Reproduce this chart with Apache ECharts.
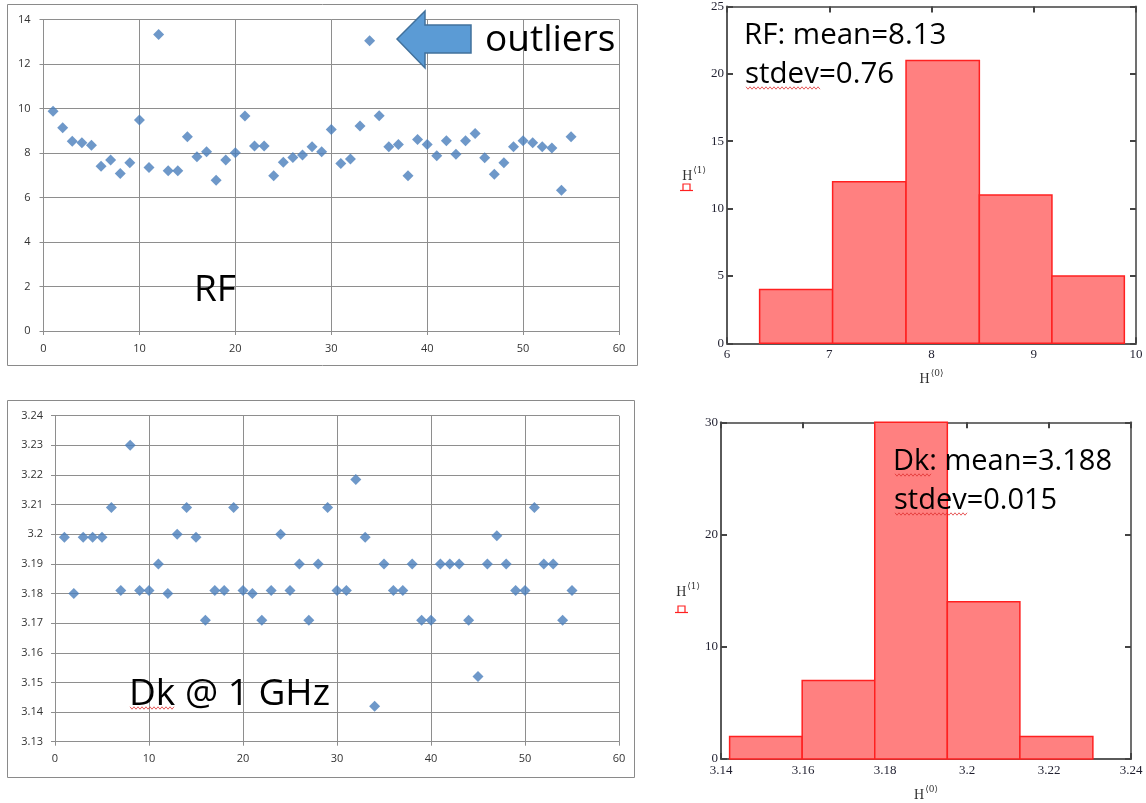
<!DOCTYPE html>
<html>
<head>
<meta charset="utf-8">
<script src="https://cdn.jsdelivr.net/npm/echarts@6/dist/echarts.min.js"></script>
<style>
html, body { margin: 0; padding: 0; background: #fff; }
#main { width: 1146px; height: 803px; }
</style>
</head>
<body>
<div id="main"></div>
<script>
// sample number (x of both scatter plots)
var sampleNo = [1, 2, 3, 4, 5, 6, 7, 8, 9, 10, 11, 12, 13, 14, 15, 16, 17, 18, 19, 20,
    21, 22, 23, 24, 25, 26, 27, 28, 29, 30, 31, 32, 33, 34, 35, 36, 37, 38, 39, 40,
    41, 42, 43, 44, 45, 46, 47, 48, 49, 50, 51, 52, 53, 54, 55];

// RF per sample
var rfValues = [9.88, 9.13, 8.53, 8.46, 8.35, 7.41, 7.68, 7.08, 7.56, 9.48,
    7.35, 13.33, 7.20, 7.20, 8.73, 7.83, 8.06, 6.78, 7.68, 8.01,
    9.66, 8.32, 8.31, 6.98, 7.58, 7.80, 7.91, 8.28, 8.06, 9.06,
    7.53, 7.73, 9.21, 13.04, 9.67, 8.28, 8.38, 6.98, 8.61, 8.38,
    7.88, 8.55, 7.94, 8.55, 8.88, 7.79, 7.04, 7.56, 8.28, 8.55,
    8.46, 8.28, 8.23, 6.33, 8.73];

// Dk @ 1 GHz per sample
var dkValues = [3.199, 3.180, 3.199, 3.199, 3.199, 3.209, 3.181, 3.230, 3.181, 3.181,
    3.190, 3.180, 3.200, 3.209, 3.199, 3.171, 3.181, 3.181, 3.209, 3.181,
    3.180, 3.171, 3.181, 3.200, 3.181, 3.190, 3.171, 3.190, 3.209, 3.181,
    3.181, 3.2185, 3.199, 3.142, 3.190, 3.181, 3.181, 3.190, 3.171, 3.171,
    3.190, 3.190, 3.190, 3.171, 3.152, 3.190, 3.1995, 3.190, 3.181, 3.181,
    3.209, 3.190, 3.190, 3.171, 3.181];

// histograms
var rfBinEdges = [6.319, 7.033, 7.751, 8.468, 9.178, 9.886];
var rfCounts = [4, 12, 21, 11, 5];
var dkBinEdges = [3.1421, 3.1598, 3.1775, 3.1952, 3.2129, 3.2307];
var dkCounts = [2, 7, 30, 14, 2];

var excelGray = '#8e8e8e';
var labelFont = 'Open Sans';

function scatterX(grid) {
    return {
        gridIndex: grid, type: 'value', min: 0, max: 60, interval: 10,
        axisLine: { show: true, onZero: false, lineStyle: { color: excelGray } },
        axisTick: { show: true, length: 4, lineStyle: { color: excelGray } },
        splitLine: { show: true, lineStyle: { color: excelGray } },
        axisLabel: { margin: 12, color: '#333', fontFamily: labelFont, fontSize: 11 }
    };
}

function scatterY(grid, min, max, step, margin) {
    return {
        gridIndex: grid, type: 'value', min: min, max: max, interval: step,
        axisLine: { show: true, onZero: false, lineStyle: { color: excelGray } },
        axisTick: { show: true, length: 4, lineStyle: { color: excelGray } },
        splitLine: { show: true, lineStyle: { color: excelGray } },
        axisLabel: {
            margin: margin, color: '#333', fontFamily: labelFont, fontSize: 11,
            formatter: function (v) { return String(parseFloat(v.toFixed(2))); }
        }
    };
}

var axisName = function (idx) {
    return '{h|H}{s|\u27e8' + idx + '\u27e9}';
};
var nameRich = {
    h: { fontFamily: 'Liberation Serif', fontSize: 14, color: '#333', verticalAlign: 'bottom' },
    s: { fontFamily: 'DejaVu Serif', fontSize: 9, color: '#333', verticalAlign: 'top', padding: [0, 0, 8, 1] }
};

function histAxis(kind, grid, pos, min, max, step, main) {
    var a = {
        gridIndex: grid, type: 'value', position: pos, min: min, max: max, interval: step,
        axisLine: { show: true, onZero: false, lineStyle: { color: main ? '#5a5a5a' : '#707070', width: 2 } },
        axisTick: { show: true, inside: true, length: 6, lineStyle: { color: '#444', width: 2 } },
        splitLine: { show: false },
        axisLabel: {
            show: main, margin: kind === 'x' ? 5 : 3, color: '#1f1f2f',
            fontFamily: 'Liberation Serif', fontSize: 13,
            formatter: function (v) { return String(parseFloat(v.toFixed(2))); }
        }
    };
    if (main) {
        a.name = axisName(kind === 'x' ? 0 : 1);
        a.nameLocation = 'middle';
        a.nameRotate = 0;
        a.nameGap = kind === 'x' ? 26 : 20;
        a.nameTextStyle = { rich: nameRich };
    }
    return a;
}

function histItem(params, api) {
    var p0 = api.coord([api.value(0), 0]);
    var p1 = api.coord([api.value(1), api.value(2)]);
    return {
        type: 'rect',
        shape: { x: p0[0], y: p1[1], width: p1[0] - p0[0], height: p0[1] - p1[1] },
        style: { fill: '#ff8080', stroke: '#ff2020', lineWidth: 1.5 }
    };
}

function pairs(xs, ys) {
    return xs.map(function (x, i) { return [x, ys[i]]; });
}
function bins(edges, counts) {
    return counts.map(function (c, i) { return [edges[i], edges[i + 1], c]; });
}

// red spell-check squiggle under a word
function squiggle(x0, x1, y) {
    var pts = [];
    for (var x = x0, k = 0; x <= x1; x += 2, k++) pts.push([x, y + (k % 2 ? 1.2 : -1.2)]);
    return { type: 'polyline', shape: { points: pts }, style: { stroke: '#e03030', lineWidth: 0.8, fill: null }, z: 101, silent: true };
}

function label(text, x, y, size) {
    return {
        type: 'text', x: x, y: y, z: 100, silent: true,
        style: { text: text, fontFamily: 'Open Sans', fontSize: size, fill: '#000', align: 'left', verticalAlign: 'middle' }
    };
}

var myChart = echarts.init(document.getElementById('main'));

var option = {
    backgroundColor: '#fff',
    animation: false,
    grid: [
        { left: 43.5, top: 19.5, width: 575.5, height: 311.5 },
        { left: 55, top: 415.7, width: 564, height: 326 },
        { left: 727, top: 2, width: 409, height: 341.3 },
        { left: 721, top: 422.3, width: 410, height: 343.4 }
    ],
    xAxis: [
        scatterX(0),
        scatterX(1),
        histAxis('x', 2, 'bottom', 6, 10, 1, true),
        histAxis('x', 2, 'top', 6, 10, 1, false),
        histAxis('x', 3, 'bottom', 3.14, 3.24, 0.02, true),
        histAxis('x', 3, 'top', 3.14, 3.24, 0.02, false)
    ],
    yAxis: [
        scatterY(0, 0, 14, 2, 13),
        scatterY(1, 3.13, 3.24, 0.01, 12),
        histAxis('y', 2, 'left', 0, 25, 5, true),
        histAxis('y', 2, 'right', 0, 25, 5, false),
        histAxis('y', 3, 'left', 0, 30, 10, true),
        histAxis('y', 3, 'right', 0, 30, 10, false)
    ],
    series: [
        {
            name: 'RF', type: 'scatter', xAxisIndex: 0, yAxisIndex: 0,
            symbol: 'diamond', symbolSize: 11,
            itemStyle: { color: '#4a7ebb' },
            data: pairs(sampleNo, rfValues)
        },
        {
            name: 'Dk @ 1 GHz', type: 'scatter', xAxisIndex: 1, yAxisIndex: 1,
            symbol: 'diamond', symbolSize: 11,
            itemStyle: { color: '#4a7ebb' },
            data: pairs(sampleNo, dkValues)
        },
        {
            name: 'RF histogram', type: 'custom', xAxisIndex: 2, yAxisIndex: 2,
            renderItem: histItem, encode: { x: [0, 1], y: 2 },
            data: bins(rfBinEdges, rfCounts)
        },
        {
            name: 'Dk histogram', type: 'custom', xAxisIndex: 4, yAxisIndex: 4,
            renderItem: histItem, encode: { x: [0, 1], y: 2 },
            data: bins(dkBinEdges, dkCounts)
        }
    ],
    graphic: [
        // excel chart frames
        { type: 'rect', silent: true, shape: { x: 7.5, y: 4.5, width: 630, height: 361 },
          style: { fill: null, stroke: '#8a8a8a', lineWidth: 1 } },
        { type: 'rect', silent: true, shape: { x: 7.5, y: 400.5, width: 627, height: 377 },
          style: { fill: null, stroke: '#8a8a8a', lineWidth: 1 } },
        // outlier arrow
        { type: 'polygon', silent: true, z: 100,
          shape: { points: [[397, 39], [425, 11], [425, 25], [471, 25], [471, 53], [425, 53], [425, 68]] },
          style: { fill: '#5b9bd5', stroke: '#41719c', lineWidth: 1.5 } },
        label('outliers', 485, 40, 37),
        label('RF', 194, 290, 37),
        label('Dk @ 1 GHz', 129, 694, 37),
        label('RF: mean=8.13', 744, 36, 29.5),
        label('stdev=0.76', 745, 75, 29.5),
        label('Dk: mean=3.188', 893, 462, 29),
        label('stdev=0.015', 894, 501, 29),
        squiggle(130, 175, 708),
        squiggle(746, 820, 88),
        squiggle(895, 932, 475),
        squiggle(895, 968, 514),
        // Mathcad placeholders under the y-axis names
        { type: 'polyline', silent: true, shape: { points: [[683, 190], [683, 184], [690, 184], [690, 190]] },
          style: { stroke: '#ff2020', lineWidth: 1.2, fill: null } },
        { type: 'line', silent: true, shape: { x1: 680, y1: 190.5, x2: 693, y2: 190.5 },
          style: { stroke: '#ff2020', lineWidth: 1.2 } },
        { type: 'polyline', silent: true, shape: { points: [[678, 612], [678, 606], [685, 606], [685, 612]] },
          style: { stroke: '#ff2020', lineWidth: 1.2, fill: null } },
        { type: 'line', silent: true, shape: { x1: 675, y1: 612.5, x2: 688, y2: 612.5 },
          style: { stroke: '#ff2020', lineWidth: 1.2 } }
    ]
};

myChart.setOption(option);
</script>
</body>
</html>
